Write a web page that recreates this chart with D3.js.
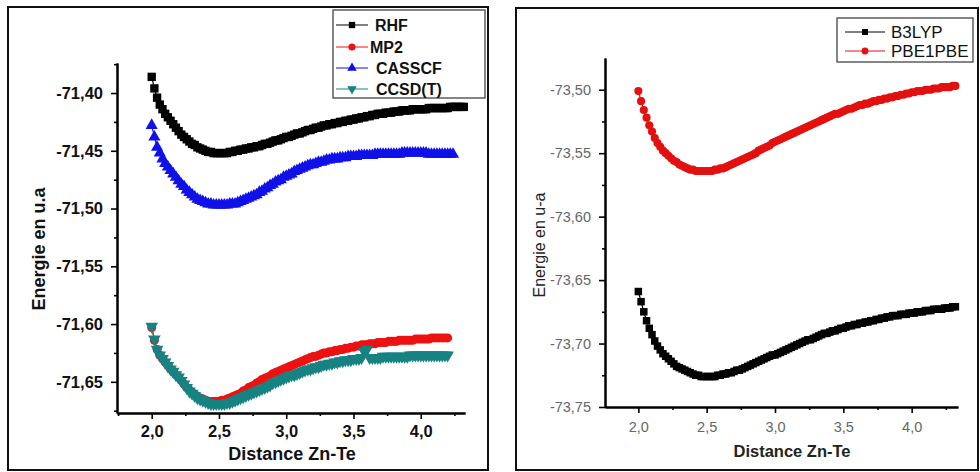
<!DOCTYPE html>
<html>
<head>
<meta charset="utf-8">
<script src="https://cdn.jsdelivr.net/npm/d3@7"></script>
<style>
  body { margin: 0; background: #fff; }
  svg { display: block; font-family: "Liberation Sans", Arial, sans-serif; }
</style>
</head>
<body>
<svg id="chart" width="980" height="472"></svg>
<script>
// Bond distance Zn-Te, one row per 0.2 (shared grid for all curves)
const distance = [
  2.00, 2.02, 2.04, 2.06, 2.08, 2.10, 2.12, 2.14, 2.16, 2.18,
  2.20, 2.22, 2.24, 2.26, 2.28, 2.30, 2.32, 2.34, 2.36, 2.38,
  2.40, 2.42, 2.44, 2.46, 2.48, 2.50, 2.52, 2.54, 2.56, 2.58,
  2.60, 2.62, 2.64, 2.66, 2.68, 2.70, 2.72, 2.74, 2.76, 2.78,
  2.80, 2.82, 2.84, 2.86, 2.88, 2.90, 2.92, 2.94, 2.96, 2.98,
  3.00, 3.02, 3.04, 3.06, 3.08, 3.10, 3.12, 3.14, 3.16, 3.18,
  3.20, 3.22, 3.24, 3.26, 3.28, 3.30, 3.32, 3.34, 3.36, 3.38,
  3.40, 3.42, 3.44, 3.46, 3.48, 3.50, 3.52, 3.54, 3.56, 3.58,
  3.60, 3.62, 3.64, 3.66, 3.68, 3.70, 3.72, 3.74, 3.76, 3.78,
  3.80, 3.82, 3.84, 3.86, 3.88, 3.90, 3.92, 3.94, 3.96, 3.98,
  4.00, 4.02, 4.04, 4.06, 4.08, 4.10, 4.12, 4.14, 4.16, 4.18,
  4.20, 4.22, 4.24, 4.26, 4.28, 4.30, 4.32]

// Left panel: ab initio methods (energies in u.a)
const rhf = [
  -71.386, -71.396, -71.404, -71.410, -71.414, -71.418, -71.421, -71.424, -71.427, -71.430,
  -71.433, -71.436, -71.438, -71.440, -71.442, -71.444, -71.445, -71.447, -71.448, -71.449,
  -71.450, -71.451, -71.451, -71.452, -71.452, -71.452, -71.452, -71.452, -71.452, -71.451,
  -71.451, -71.450, -71.450, -71.449, -71.449, -71.448, -71.448, -71.447, -71.447, -71.446,
  -71.446, -71.445, -71.444, -71.444, -71.443, -71.442, -71.441, -71.441, -71.440, -71.439,
  -71.438, -71.438, -71.437, -71.436, -71.435, -71.435, -71.434, -71.433, -71.432, -71.432,
  -71.431, -71.430, -71.430, -71.429, -71.428, -71.428, -71.427, -71.427, -71.426, -71.426,
  -71.425, -71.425, -71.424, -71.424, -71.423, -71.423, -71.422, -71.422, -71.421, -71.421,
  -71.420, -71.420, -71.419, -71.419, -71.418, -71.418, -71.418, -71.417, -71.417, -71.417,
  -71.416, -71.416, -71.416, -71.415, -71.415, -71.415, -71.415, -71.414, -71.414, -71.414,
  -71.414, -71.414, -71.414, -71.413, -71.413, -71.413, -71.413, -71.413, -71.413, -71.413,
  -71.413, -71.412, -71.412, -71.412, -71.412, -71.412, -71.412]
const mp2 = [
  -71.603, -71.614, -71.622, -71.627, -71.630, -71.633, -71.636, -71.639, -71.641, -71.644,
  -71.646, -71.649, -71.652, -71.655, -71.657, -71.659, -71.661, -71.663, -71.664, -71.665,
  -71.666, -71.667, -71.667, -71.667, -71.667, -71.667, -71.666, -71.666, -71.665, -71.664,
  -71.663, -71.662, -71.661, -71.660, -71.658, -71.657, -71.655, -71.654, -71.653, -71.651,
  -71.650, -71.648, -71.647, -71.646, -71.645, -71.643, -71.642, -71.641, -71.640, -71.639,
  -71.638, -71.637, -71.636, -71.635, -71.634, -71.633, -71.632, -71.631, -71.630, -71.629,
  -71.628, -71.628, -71.627, -71.626, -71.625, -71.625, -71.624, -71.624, -71.623, -71.623,
  -71.622, -71.622, -71.621, -71.621, -71.620, -71.620, -71.619, -71.619, -71.618, -71.618,
  -71.618, -71.617, -71.617, -71.617, -71.616, -71.616, -71.616, -71.616, -71.615, -71.615,
  -71.615, -71.615, -71.614, -71.614, -71.614, -71.614, -71.614, -71.614, -71.613, -71.613,
  -71.613, -71.613, -71.613, -71.613, -71.612, -71.612, -71.612, -71.612, -71.612, -71.612,
  -71.612]
const casscf = [
  -71.428, -71.438, -71.447, -71.452, -71.457, -71.461, -71.464, -71.467, -71.470, -71.473,
  -71.476, -71.479, -71.481, -71.484, -71.486, -71.488, -71.490, -71.492, -71.493, -71.494,
  -71.495, -71.496, -71.496, -71.497, -71.497, -71.497, -71.497, -71.497, -71.497, -71.496,
  -71.496, -71.496, -71.495, -71.494, -71.493, -71.492, -71.491, -71.490, -71.489, -71.488,
  -71.486, -71.485, -71.483, -71.482, -71.480, -71.479, -71.477, -71.476, -71.475, -71.473,
  -71.472, -71.471, -71.470, -71.468, -71.467, -71.466, -71.465, -71.464, -71.463, -71.462,
  -71.462, -71.461, -71.460, -71.460, -71.459, -71.458, -71.458, -71.457, -71.457, -71.457,
  -71.456, -71.456, -71.456, -71.455, -71.455, -71.455, -71.455, -71.454, -71.454, -71.454,
  -71.454, -71.454, -71.454, -71.453, -71.453, -71.453, -71.453, -71.453, -71.453, -71.453,
  -71.453, -71.453, -71.453, -71.452, -71.452, -71.452, -71.452, -71.452, -71.452, -71.452,
  -71.452, -71.452, -71.452, -71.453, -71.453, -71.453, -71.453, -71.453, -71.453, -71.453,
  -71.453, -71.453, -71.453]
const ccsdt = [
  -71.602, -71.613, -71.622, -71.627, -71.630, -71.633, -71.636, -71.639, -71.641, -71.644,
  -71.646, -71.649, -71.652, -71.655, -71.658, -71.660, -71.662, -71.664, -71.665, -71.666,
  -71.667, -71.668, -71.669, -71.669, -71.669, -71.669, -71.669, -71.669, -71.668, -71.668,
  -71.667, -71.666, -71.665, -71.664, -71.663, -71.662, -71.661, -71.660, -71.659, -71.658,
  -71.657, -71.656, -71.655, -71.654, -71.653, -71.651, -71.650, -71.649, -71.648, -71.647,
  -71.646, -71.645, -71.644, -71.644, -71.643, -71.642, -71.641, -71.640, -71.639, -71.639,
  -71.638, -71.637, -71.637, -71.636, -71.635, -71.635, -71.634, -71.634, -71.633, -71.633,
  -71.632, -71.632, -71.631, -71.631, -71.631, -71.630, -71.630, -71.630, -71.629, -71.624,
  -71.622, -71.629, -71.629, -71.629, -71.629, -71.629, -71.628, -71.628, -71.628, -71.628,
  -71.628, -71.628, -71.628, -71.628, -71.628, -71.628, -71.627, -71.627, -71.627, -71.627,
  -71.627, -71.627, -71.627, -71.627, -71.627, -71.627, -71.627, -71.627, -71.627, -71.627,
  -71.627]

// Right panel: DFT functionals
const b3lyp = [
  -73.659, -73.667, -73.675, -73.682, -73.688, -73.693, -73.698, -73.702, -73.705, -73.708,
  -73.710, -73.712, -73.714, -73.716, -73.718, -73.719, -73.720, -73.721, -73.722, -73.723,
  -73.724, -73.725, -73.725, -73.726, -73.726, -73.726, -73.726, -73.726, -73.726, -73.725,
  -73.725, -73.724, -73.724, -73.723, -73.723, -73.722, -73.721, -73.721, -73.720, -73.719,
  -73.718, -73.717, -73.716, -73.715, -73.714, -73.713, -73.712, -73.711, -73.710, -73.709,
  -73.709, -73.708, -73.707, -73.706, -73.705, -73.704, -73.703, -73.702, -73.701, -73.700,
  -73.699, -73.698, -73.697, -73.697, -73.696, -73.695, -73.694, -73.693, -73.692, -73.692,
  -73.691, -73.690, -73.690, -73.689, -73.688, -73.688, -73.687, -73.686, -73.686, -73.685,
  -73.685, -73.684, -73.684, -73.683, -73.683, -73.682, -73.682, -73.681, -73.681, -73.680,
  -73.680, -73.679, -73.679, -73.678, -73.678, -73.678, -73.677, -73.677, -73.677, -73.676,
  -73.676, -73.676, -73.675, -73.675, -73.675, -73.674, -73.674, -73.674, -73.673, -73.673,
  -73.673, -73.673, -73.672, -73.672, -73.672, -73.671, -73.671]
const pbe1pbe = [
  -73.501, -73.509, -73.516, -73.522, -73.528, -73.533, -73.538, -73.542, -73.545, -73.548,
  -73.550, -73.552, -73.554, -73.556, -73.557, -73.559, -73.560, -73.561, -73.562, -73.563,
  -73.563, -73.564, -73.564, -73.564, -73.564, -73.564, -73.564, -73.564, -73.563, -73.563,
  -73.562, -73.562, -73.561, -73.560, -73.559, -73.558, -73.557, -73.556, -73.555, -73.554,
  -73.553, -73.552, -73.551, -73.550, -73.548, -73.547, -73.546, -73.545, -73.544, -73.542,
  -73.541, -73.540, -73.539, -73.538, -73.537, -73.536, -73.535, -73.534, -73.533, -73.532,
  -73.531, -73.530, -73.529, -73.528, -73.527, -73.526, -73.525, -73.524, -73.523, -73.522,
  -73.521, -73.520, -73.519, -73.519, -73.518, -73.517, -73.516, -73.515, -73.515, -73.514,
  -73.513, -73.512, -73.512, -73.511, -73.511, -73.510, -73.509, -73.509, -73.508, -73.508,
  -73.507, -73.507, -73.506, -73.506, -73.505, -73.505, -73.504, -73.504, -73.503, -73.503,
  -73.502, -73.502, -73.501, -73.501, -73.501, -73.500, -73.500, -73.500, -73.499, -73.499,
  -73.499, -73.498, -73.498, -73.498, -73.498, -73.497, -73.497]

// Tick values
const xTicks = [2.0, 2.5, 3.0, 3.5, 4.0]
const xMinorLeft = [1.75, 2.25, 2.75, 3.25, 3.75, 4.25]
const xMinorRight = [2.25, 2.75, 3.25, 3.75, 4.25]
const leftYTicks = [-71.65, -71.60, -71.55, -71.50, -71.45, -71.40]
const leftYMinor = [-71.675, -71.625, -71.575, -71.525, -71.475, -71.425, -71.375]
const rightYTicks = [-73.75, -73.70, -73.65, -73.60, -73.55, -73.50]
const rightYMinor = [-73.725, -73.675, -73.625, -73.575, -73.525]

const svg = d3.select("#chart")
const comma = d => d.toFixed(d < -10 ? 2 : 1).replace(".", ",")

// Pair the shared distance grid with one series
const toPoints = vals => vals.map((v, i) => ({x: distance[i], y: v}))

// Frames round each panel
svg.append("rect").attr("x", 8).attr("y", 7).attr("width", 480).attr("height", 463)
  .attr("fill", "none").attr("stroke", "#111").attr("stroke-width", 2)
svg.append("rect").attr("x", 516).attr("y", 8).attr("width", 462).attr("height", 462)
  .attr("fill", "none").attr("stroke", "#111").attr("stroke-width", 2)

// Draws axes, series and legend for one panel
function drawPanel(p) {
  const g = svg.append("g")
  const x = d3.scaleLinear().domain(p.xDomain).range(p.xRange)
  const y = d3.scaleLinear().domain(p.yDomain).range(p.yRange)

  // minor ticks first, then major
  g.append("g").attr("transform", `translate(0,${p.yRange[0]})`)
    .call(d3.axisBottom(x).tickValues(p.xMinor).tickSize(3).tickSizeOuter(0).tickFormat(""))
  g.append("g").attr("transform", `translate(${p.xRange[0]},0)`)
    .call(d3.axisLeft(y).tickValues(p.yMinor).tickSize(3).tickSizeOuter(0).tickFormat(""))
  const xa = g.append("g").attr("transform", `translate(0,${p.yRange[0]})`)
    .call(d3.axisBottom(x).tickValues(xTicks).tickSize(6).tickSizeOuter(0)
      .tickPadding(p.xPad).tickFormat(comma))
  const ya = g.append("g").attr("transform", `translate(${p.xRange[0]},0)`)
    .call(d3.axisLeft(y).tickValues(p.yTicks).tickSize(6).tickSizeOuter(0)
      .tickPadding(8).tickFormat(comma))
  g.selectAll(".domain").attr("stroke", "#000").attr("stroke-width", 2)
  g.selectAll(".tick line").attr("stroke", "#000").attr("stroke-width", 1.6)
  ;[xa, ya].forEach(a => a.selectAll("text")
    .attr("font-size", p.tickFont).attr("font-weight", p.tickWeight).attr("fill", p.tickColor)
    .attr("font-family", "Liberation Sans, Arial, sans-serif"))

  // axis titles
  g.append("text").attr("x", p.xTitle[0]).attr("y", p.xTitle[1])
    .attr("text-anchor", "middle").attr("font-size", p.xTitleFont).attr("font-weight", "bold")
    .attr("fill", p.titleColor).text("Distance Zn-Te")
  g.append("text").attr("transform", `translate(${p.yTitle[0]},${p.yTitle[1]}) rotate(-90)`)
    .attr("text-anchor", "middle").attr("font-size", p.yTitleFont).attr("font-weight", p.yTitleWeight)
    .attr("fill", p.titleColor).text(p.yLabel)

  // series: thin line plus dense markers
  p.series.forEach(s => {
    const pts = toPoints(s.values)
    g.append("path").datum(pts)
      .attr("d", d3.line().x(d => x(d.x)).y(d => y(d.y)))
      .attr("fill", "none").attr("stroke", s.color).attr("stroke-width", 1.2)
    g.append("g").selectAll("path").data(pts).enter().append("path")
      .attr("d", d3.symbol().type(s.shape).size(s.size))
      .attr("transform", d => `translate(${x(d.x)},${y(d.y)})${s.flip ? " rotate(180)" : ""}`)
      .attr("fill", s.color)
  })

  // legend
  const L = p.legend
  g.append("rect").attr("x", L.x).attr("y", L.y).attr("width", L.w).attr("height", L.h)
    .attr("fill", "#fff").attr("stroke", "#444").attr("stroke-width", 1.3)
  p.series.forEach((s, i) => {
    const ly = L.rows[i]
    g.append("line").attr("x1", L.lineX[0]).attr("x2", L.lineX[1]).attr("y1", ly).attr("y2", ly)
      .attr("stroke", s.color).attr("stroke-width", 1)
    g.append("path").attr("d", d3.symbol().type(s.shape).size(L.markSize))
      .attr("transform", `translate(${(L.lineX[0] + L.lineX[1]) / 2},${ly})${s.flip ? " rotate(180)" : ""}`)
      .attr("fill", s.color)
    g.append("text").attr("x", L.textX[i]).attr("y", ly).attr("dy", "0.36em")
      .attr("font-size", L.font).attr("font-weight", L.weight).attr("fill", "#111")
      .text(s.name)
  })
}

drawPanel({
  xDomain: [1.742, 4.329], xRange: [117, 465],
  yDomain: [-71.677, -71.374], yRange: [413, 63],
  yTicks: leftYTicks, yMinor: leftYMinor, xMinor: xMinorLeft,
  tickFont: 16.5, tickWeight: "bold", tickColor: "#111", xPad: 6,
  xTitle: [292, 460], xTitleFont: 18, yTitle: [45, 249], yTitleFont: 18, yTitleWeight: "bold",
  titleColor: "#111", yLabel: "Energie en u.a",
  series: [
    {name: "RHF", values: rhf, color: "#000", shape: d3.symbolSquare, size: 70},
    {name: "MP2", values: mp2, color: "#ee1111", shape: d3.symbolCircle, size: 64},
    {name: "CASSCF", values: casscf, color: "#1010e8", shape: d3.symbolTriangle, size: 64},
    {name: "CCSD(T)", values: ccsdt, color: "#178282", shape: d3.symbolTriangle, size: 70, flip: true}
  ],
  legend: {x: 333, y: 10, w: 152, h: 88, rows: [25, 47, 68, 89], lineX: [336, 368],
    textX: [375, 370, 376, 376], font: 16, weight: "bold", markSize: 40}
})

drawPanel({
  xDomain: [1.756, 4.339], xRange: [605, 958],
  yDomain: [-73.75, -73.475], yRange: [407, 58],
  yTicks: rightYTicks, yMinor: rightYMinor, xMinor: xMinorRight,
  tickFont: 14.5, tickWeight: "normal", tickColor: "#666", xPad: 9,
  xTitle: [792, 457], xTitleFont: 16.5, yTitle: [545, 245], yTitleFont: 16, yTitleWeight: "normal",
  titleColor: "#222", yLabel: "Energie en u-a",
  series: [
    {name: "B3LYP", values: b3lyp, color: "#000", shape: d3.symbolSquare, size: 56},
    {name: "PBE1PBE", values: pbe1pbe, color: "#e31010", shape: d3.symbolCircle, size: 52}
  ],
  legend: {x: 837, y: 18, w: 136, h: 44, rows: [32, 51], lineX: [845, 885],
    textX: [891, 891], font: 17, weight: "normal", markSize: 36}
})
</script>
</body>
</html>
